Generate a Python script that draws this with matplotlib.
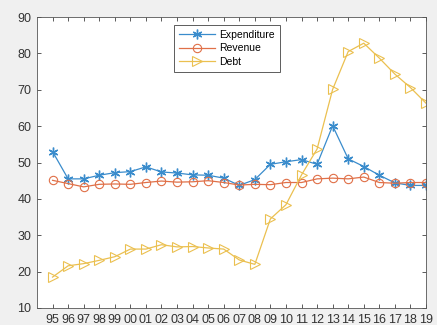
import matplotlib
matplotlib.use("Agg")
import matplotlib.pyplot as plt
import numpy as np

years = ["95","96","97","98","99","00","01","02","03","04","05","06","07","08",
         "09","10","11","12","13","14","15","16","17","18","19"]
expenditure = [53.0,45.5,45.5,46.5,47.2,47.5,48.8,47.4,47.1,46.6,46.5,45.7,43.7,45.3,
               49.5,50.2,50.8,49.5,60.1,51.0,48.9,46.5,44.4,43.7,43.7]
revenue = [45.1,44.2,43.3,44.0,44.1,44.0,44.5,44.9,44.6,44.7,45.0,44.5,43.8,44.0,
           43.9,44.5,44.5,45.5,45.7,45.5,46.0,44.5,44.3,44.5,44.5]
debt = [18.5,21.6,22.2,23.1,24.1,26.2,26.2,27.4,26.8,26.9,26.5,26.2,23.2,22.0,
        34.5,38.4,46.6,53.7,70.1,80.5,82.8,78.7,74.3,70.6,66.3]

plt.rcParams['font.family'] = ['Liberation Sans', 'DejaVu Sans']

fig = plt.figure(figsize=(4.37, 3.25), dpi=100, facecolor='#f0f0f0')
ax = fig.add_axes([37/437, (325-308)/325, (426-37)/437, (308-17)/325])
ax.set_facecolor('white')

x = np.arange(1, len(years) + 1)
ax.plot(x, expenditure, color='#3a8ccc', marker=(6, 2, 0), markersize=7, lw=0.9,
        markeredgewidth=1.0, label='Expenditure')
ax.plot(x, revenue, color='#e07048', marker='o', markersize=6, lw=0.9,
        markerfacecolor='none', markeredgewidth=0.8, label='Revenue')
ax.plot(x, debt, color='#ebc050', marker='>', markersize=7, lw=0.9,
        markerfacecolor='none', markeredgewidth=0.8, label='Debt')

ax.set_xlim(0, len(years))
ax.set_ylim(10, 90)
ax.set_xticks(x)
ax.set_xticklabels(years)
ax.set_yticks(np.arange(10, 91, 10))
ax.tick_params(direction='in', top=True, right=True, length=3, width=0.6,
               colors='#404040', labelsize=9, labelcolor='#333333')
ax.tick_params(axis='x', pad=4, labelsize=9)
ax.tick_params(axis='y', pad=4)
for s in ax.spines.values():
    s.set_color('#555555')
    s.set_linewidth(0.6)

leg = ax.legend(loc='upper center', bbox_to_anchor=(0.488, 0.973), fontsize=7.5,
                frameon=True, fancybox=False, edgecolor='#333333',
                borderpad=0.45, labelspacing=0.35, handlelength=3.5,
                handletextpad=0.4, borderaxespad=0)
leg.get_frame().set_linewidth(0.7)

fig.savefig('out.png', dpi=100, facecolor=fig.get_facecolor())
